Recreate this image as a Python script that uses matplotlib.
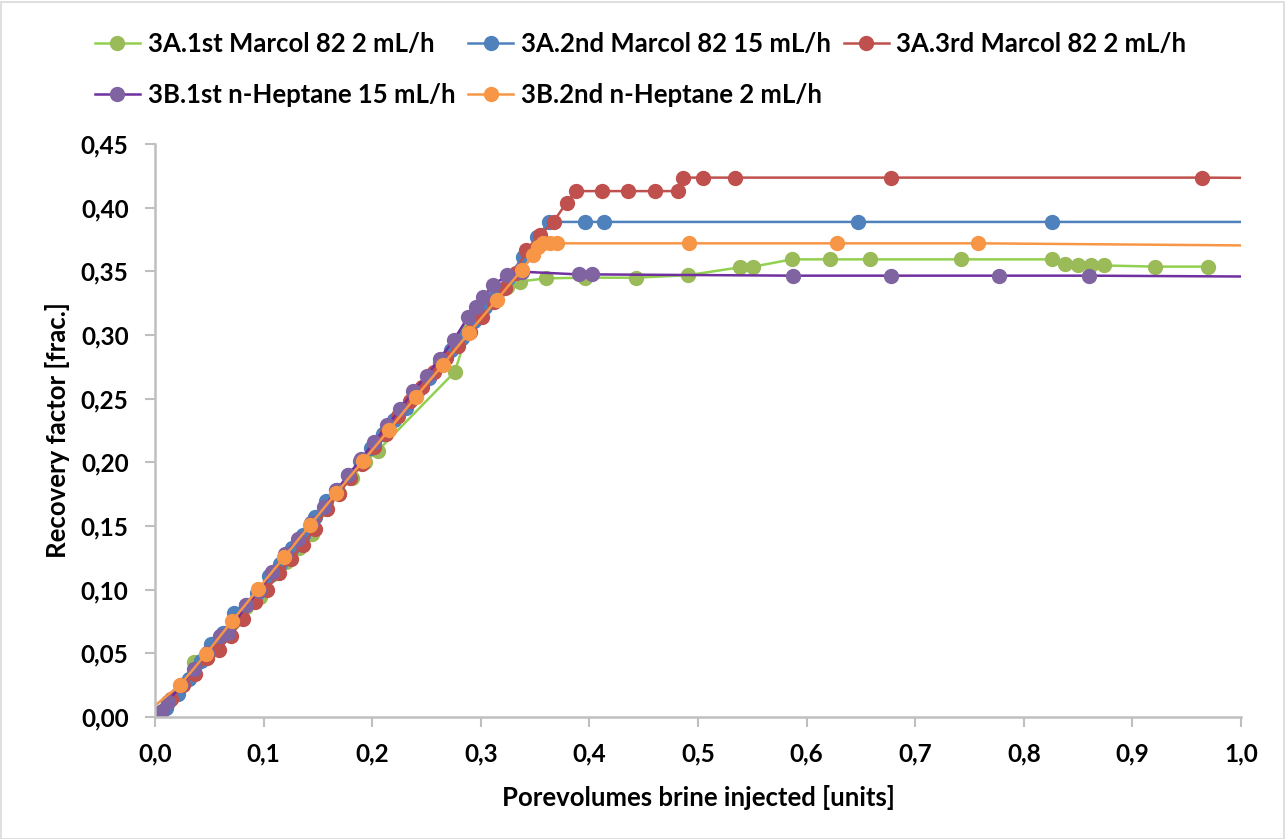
import matplotlib
matplotlib.use("Agg")
import matplotlib.pyplot as plt
from matplotlib.patches import Rectangle

plt.rcParams['font.family'] = ['Lato', 'DejaVu Sans']

# ---------------- data ----------------
green_x = [0.000, 0.012, 0.024, 0.036, 0.048, 0.060, 0.072, 0.084, 0.097, 0.109, 0.121, 0.133,
           0.145, 0.157, 0.169, 0.181, 0.193, 0.205, 0.276, 0.288, 0.300, 0.312, 0.324, 0.336,
           0.360, 0.396, 0.443, 0.491, 0.539, 0.551, 0.5865, 0.622, 0.658, 0.742, 0.826, 0.838,
           0.850, 0.862, 0.874, 0.921, 0.9696]
green_y = [0.000, 0.012, 0.025, 0.043, 0.047, 0.063, 0.075, 0.086, 0.094, 0.112, 0.122, 0.133,
           0.144, 0.163, 0.176, 0.188, 0.200, 0.209, 0.271, 0.303, 0.318, 0.330, 0.338, 0.342,
           0.3445, 0.345, 0.345, 0.347, 0.3532, 0.3537, 0.3594, 0.3594, 0.3594, 0.3594, 0.3594, 0.3554,
           0.3546, 0.3546, 0.3546, 0.3537, 0.3537]

blue_x = [0.000, 0.010, 0.021, 0.031, 0.042, 0.052, 0.063, 0.073, 0.084, 0.094, 0.105, 0.115,
          0.126, 0.136, 0.147, 0.157, 0.168, 0.178, 0.189, 0.199, 0.210, 0.220, 0.231, 0.241,
          0.252, 0.262, 0.273, 0.283, 0.294, 0.304, 0.315, 0.325, 0.339, 0.352, 0.363, 0.396,
          0.413, 0.647, 0.826, 1.2]
blue_y = [0.000, 0.007, 0.018, 0.030, 0.044, 0.057, 0.066, 0.082, 0.088, 0.097, 0.111, 0.120,
          0.133, 0.143, 0.157, 0.170, 0.178, 0.190, 0.201, 0.211, 0.222, 0.233, 0.243, 0.255,
          0.266, 0.278, 0.288, 0.298, 0.311, 0.322, 0.333, 0.345, 0.3615, 0.377, 0.3888, 0.3888,
          0.3888, 0.3888, 0.3888, 0.3888]

red_x = [0.004, 0.015, 0.026, 0.037, 0.048, 0.059, 0.070, 0.081, 0.092, 0.103, 0.114, 0.125,
         0.136, 0.147, 0.158, 0.169, 0.180, 0.191, 0.202, 0.213, 0.224, 0.235, 0.246, 0.257,
         0.268, 0.279, 0.290, 0.301, 0.312, 0.322, 0.332, 0.342, 0.3545, 0.367, 0.379, 0.388,
         0.412, 0.436, 0.460, 0.482, 0.4865, 0.505, 0.534, 0.678, 0.964, 1.2]
red_y = [0.003, 0.014, 0.025, 0.034, 0.046, 0.053, 0.064, 0.077, 0.090, 0.100, 0.113, 0.124,
         0.135, 0.148, 0.163, 0.175, 0.188, 0.199, 0.212, 0.222, 0.236, 0.248, 0.259, 0.271,
         0.282, 0.291, 0.302, 0.314, 0.326, 0.337, 0.349, 0.367, 0.3785, 0.389, 0.404, 0.413,
         0.413, 0.413, 0.413, 0.413, 0.4236, 0.4236, 0.4236, 0.4236, 0.4236, 0.4225]

purple_x = [0.006, 0.012, 0.024, 0.036, 0.048, 0.060, 0.0675, 0.084, 0.096, 0.108, 0.120, 0.132,
            0.144, 0.156, 0.167, 0.178, 0.190, 0.202, 0.214, 0.226, 0.238, 0.250, 0.262, 0.275,
            0.2885, 0.296, 0.302, 0.3115, 0.324, 0.3376, 0.390, 0.402, 0.5875, 0.678, 0.777, 0.860, 1.2]
purple_y = [0.005, 0.012, 0.025, 0.038, 0.050, 0.064, 0.0657, 0.088, 0.099, 0.114, 0.128, 0.140,
            0.152, 0.165, 0.178, 0.190, 0.203, 0.216, 0.229, 0.242, 0.256, 0.268, 0.281, 0.296,
            0.3144, 0.322, 0.330, 0.339, 0.347, 0.3497, 0.3476, 0.3476, 0.3466, 0.3466, 0.3466, 0.3466, 0.345]

orange_x = [0.000, 0.023, 0.047, 0.071, 0.095, 0.119, 0.143, 0.167, 0.1915, 0.2155, 0.240, 0.265,
            0.289, 0.3146, 0.3376, 0.348, 0.353, 0.3576, 0.364, 0.370, 0.492, 0.628, 0.758, 1.2]
orange_y = [0.009, 0.0251, 0.0495, 0.0754, 0.1005, 0.1257, 0.151, 0.176, 0.201, 0.2254, 0.2513, 0.2765,
            0.3016, 0.3275, 0.351, 0.3628, 0.3689, 0.372, 0.372, 0.372, 0.372, 0.372, 0.372, 0.369]

labels = ["3A.1st Marcol 82 2 mL/h", "3A.2nd Marcol 82 15 mL/h", "3A.3rd Marcol 82 2 mL/h",
          "3B.1st n-Heptane 15 mL/h", "3B.2nd n-Heptane 2 mL/h"]

x_ticks = [0.0, 0.1, 0.2, 0.3, 0.4, 0.5, 0.6, 0.7, 0.8, 0.9, 1.0]
x_ticklabels = ["0,0", "0,1", "0,2", "0,3", "0,4", "0,5", "0,6", "0,7", "0,8", "0,9", "1,0"]
y_ticks = [0.00, 0.05, 0.10, 0.15, 0.20, 0.25, 0.30, 0.35, 0.40, 0.45]
y_ticklabels = ["0,00", "0,05", "0,10", "0,15", "0,20", "0,25", "0,30", "0,35", "0,40", "0,45"]

# ---------------- figure ----------------
fig = plt.figure(figsize=(12.87, 8.39), dpi=100)
ax = fig.add_axes([155/1287, 1-717/839, (1241-155)/1287, (717-144)/839])

series = [
    (green_x, green_y, '#92D050', '#9BBB59', None),
    (blue_x, blue_y, '#4F81BD', '#4F81BD', None),
    (red_x, red_y, '#C0504D', '#C0504D', None),
    (purple_x, purple_y, '#7030A0', '#8064A2', None),
    (orange_x, orange_y, '#F79646', '#F79646', list(range(1, len(orange_x)))),
]
handles = []
for (xs, ys, lc, mc, me), lab in zip(series, labels):
    h, = ax.plot(xs, ys, color=lc, lw=1.8, marker='o', markersize=10,
                 markerfacecolor=mc, markeredgecolor=mc, markevery=me, label=lab,
                 clip_on=True)
    handles.append(h)

ax.set_xlim(0, 1.0)
ax.set_ylim(0, 0.45)
ax.set_xticks(x_ticks)
ax.set_xticklabels(x_ticklabels)
ax.set_yticks(y_ticks)
ax.set_yticklabels(y_ticklabels)

for s in ['top', 'right']:
    ax.spines[s].set_visible(False)
for s in ['left', 'bottom']:
    ax.spines[s].set_color('#BFBFBF')
    ax.spines[s].set_linewidth(1.8)
ax.tick_params(axis='both', colors='#BFBFBF', width=1.5, length=7, direction='out',
               labelcolor='black', labelsize=17.5)
ax.tick_params(axis='x', pad=11)
ax.tick_params(axis='y', pad=12)
for t in ax.get_xticklabels() + ax.get_yticklabels():
    t.set_fontweight('bold')

ax.set_xlabel("Porevolumes brine injected [units]", fontsize=18.5, fontweight='bold')
ax.set_ylabel("Recovery factor [frac.]", fontsize=18.5, fontweight='bold')
ax.xaxis.label.set_va('center')
ax.yaxis.label.set_va('center')
ax.xaxis.set_label_coords(0.5, (717-797)/573)
ax.yaxis.set_label_coords((57-155)/1086, 0.5)

# legend in row-major order (3 columns)
order = [0, 3, 1, 4, 2]
leg = fig.legend([handles[i] for i in order], [labels[i] for i in order],
                 ncol=3, loc='upper left', bbox_to_anchor=(95/1287, 1-32/839),
                 frameon=False, fontsize=18.5, handlelength=1.75, handletextpad=0.3,
                 columnspacing=0.5, labelspacing=1.05, borderaxespad=0, borderpad=0)
for t in leg.get_texts():
    t.set_fontweight('bold')

fig.patches.append(Rectangle((0.5/1287, 0.5/839), 1283/1287, 837/839, transform=fig.transFigure,
                             fill=False, edgecolor='#D9D9D9', lw=1.2))

fig.savefig("out.png", dpi=100)
